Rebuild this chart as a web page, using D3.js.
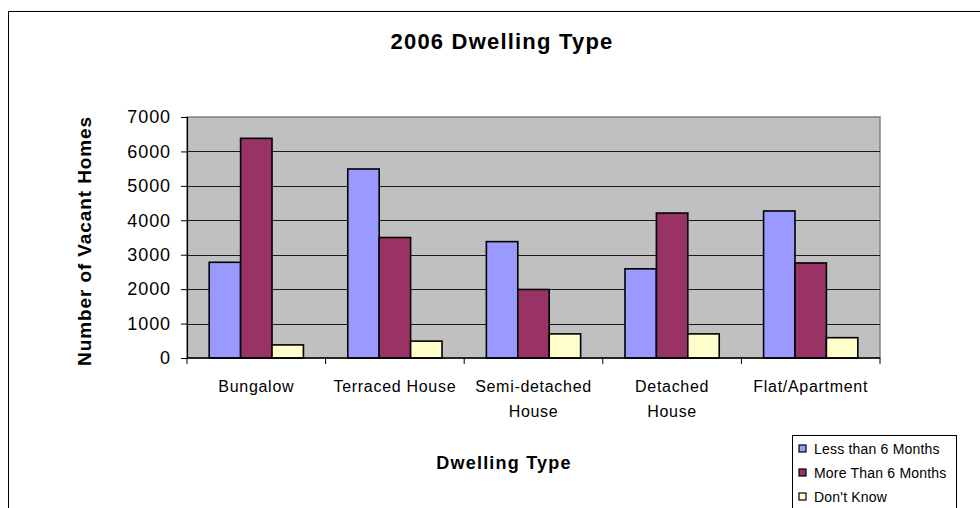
<!DOCTYPE html>
<html>
<head>
<meta charset="utf-8">
<script src="https://cdn.jsdelivr.net/npm/d3@7"></script>
<style>
  html, body { margin: 0; padding: 0; background: #fff; }
  svg { display: block; font-family: Arial, "Liberation Sans", sans-serif; }
</style>
</head>
<body>
<svg id="chart" width="980" height="508"></svg>
<script>
// Vacant homes by dwelling type, 2006
const categories = ["Bungalow", "Terraced House", "Semi-detached House", "Detached House", "Flat/Apartment"];
const categoryLines = [["Bungalow"], ["Terraced House"], ["Semi-detached", "House"], ["Detached", "House"], ["Flat/Apartment"]];
const seriesNames = ["Less than 6 Months", "More Than 6 Months", "Don't Know"];
const lessThan6 = [2780, 5490, 3380, 2590, 4270];
const moreThan6 = [6380, 3500, 1990, 4210, 2760];
const dontKnow = [380, 490, 700, 700, 590];
const yTicks = [0, 1000, 2000, 3000, 4000, 5000, 6000, 7000];
const colors = ["#9999FF", "#993366", "#FFFFCC"];

const seriesValues = [lessThan6, moreThan6, dontKnow];
const svg = d3.select("#chart");

const plot = { left: 187, right: 880, top: 117, bottom: 358 };

// Outer chart frame
svg.append("path")
  .attr("d", "M8.5,520 V11.5 H990")
  .attr("fill", "none").attr("stroke", "#000").attr("stroke-width", 1);

const x0 = d3.scaleBand().domain(categories).range([plot.left, plot.right]).padding(0);
const x1 = d3.scaleBand().domain(seriesNames)
  .range([x0.bandwidth() * 0.16, x0.bandwidth() * 0.84]).padding(0);
const y = d3.scaleLinear().domain([0, 7000]).range([plot.bottom, plot.top]);

// Plot background
svg.append("rect")
  .attr("x", plot.left).attr("y", plot.top)
  .attr("width", plot.right - plot.left).attr("height", plot.bottom - plot.top)
  .attr("fill", "#C0C0C0").attr("stroke", "#808080").attr("stroke-width", 1.5);

// Gridlines
svg.append("g").selectAll("line")
  .data(yTicks.filter(t => t > 0 && t < 7000))
  .join("line")
  .attr("x1", plot.left).attr("x2", plot.right)
  .attr("y1", d => Math.round(y(d)) + 0.5).attr("y2", d => Math.round(y(d)) + 0.5)
  .attr("stroke", "#1a1a1a").attr("stroke-width", 1.2);

// Bars
const groups = svg.append("g").selectAll("g")
  .data(categories)
  .join("g")
  .attr("transform", d => `translate(${x0(d)},0)`);

groups.selectAll("rect")
  .data((d, i) => seriesNames.map((s, j) => ({ s, j, v: seriesValues[j][i] })))
  .join("rect")
  .attr("x", d => x1(d.s))
  .attr("y", d => y(d.v))
  .attr("width", x1.bandwidth())
  .attr("height", d => y(0) - y(d.v))
  .attr("fill", d => colors[d.j])
  .attr("stroke", "#000").attr("stroke-width", 1.6);

// Y axis
const yAxis = d3.axisLeft(y).tickValues(yTicks).tickSize(6).tickPadding(10).tickFormat(d3.format("d"));
const yg = svg.append("g").attr("transform", `translate(${plot.left},0)`).call(yAxis);
yg.select(".domain").attr("stroke", "#000").attr("stroke-width", 1.2);
yg.selectAll(".tick line").attr("stroke", "#000");
yg.selectAll("text")
  .attr("font-family", "Arial, 'Liberation Sans', sans-serif")
  .attr("font-size", 18).attr("letter-spacing", 0.9).attr("fill", "#000");

// X axis line and category separators
svg.append("line")
  .attr("x1", plot.left).attr("x2", plot.right)
  .attr("y1", plot.bottom).attr("y2", plot.bottom)
  .attr("stroke", "#000").attr("stroke-width", 1.5);
const boundaries = categories.map(c => x0(c)).concat([x0.range()[1]]);
svg.append("g").selectAll("line")
  .data(boundaries)
  .join("line")
  .attr("x1", d => d).attr("x2", d => d)
  .attr("y1", plot.bottom).attr("y2", plot.bottom + 6)
  .attr("stroke", "#000").attr("stroke-width", 1);

// Category labels
const catLabels = svg.append("g").selectAll("text")
  .data(categories)
  .join("text")
  .attr("x", d => x0(d) + x0.bandwidth() / 2)
  .attr("y", 392)
  .attr("text-anchor", "middle")
  .attr("font-size", 16).attr("letter-spacing", 0.7).attr("fill", "#000");
catLabels.each(function(d, i) {
  d3.select(this).selectAll("tspan")
    .data(categoryLines[i])
    .join("tspan")
    .attr("x", x0(d) + x0.bandwidth() / 2)
    .attr("dy", (t, k) => k === 0 ? 0 : 25)
    .text(t => t);
});

// Title
svg.append("text")
  .attr("x", 502).attr("y", 49)
  .attr("text-anchor", "middle")
  .attr("font-size", 22).attr("font-weight", "bold").attr("letter-spacing", 1.2)
  .text("2006 Dwelling Type");

// Axis titles
svg.append("text")
  .attr("x", 504).attr("y", 469)
  .attr("text-anchor", "middle")
  .attr("font-size", 18).attr("font-weight", "bold").attr("letter-spacing", 1.2)
  .text("Dwelling Type");

svg.append("text")
  .attr("transform", "translate(91,241) rotate(-90)")
  .attr("text-anchor", "middle")
  .attr("font-size", 19).attr("font-weight", "bold").attr("letter-spacing", 0.9)
  .text("Number of Vacant Homes");

// Legend
const legend = svg.append("g");
legend.append("rect")
  .attr("x", 792.5).attr("y", 435.5).attr("width", 164).attr("height", 90)
  .attr("fill", "#fff").attr("stroke", "#000").attr("stroke-width", 1);
const items = legend.selectAll("g.item")
  .data(seriesNames)
  .join("g").attr("class", "item")
  .attr("transform", (d, i) => `translate(0,${449 + i * 24})`);
items.append("rect")
  .attr("x", 799).attr("y", -4).attr("width", 7).attr("height", 7)
  .attr("fill", (d, i) => colors[i]).attr("stroke", "#000").attr("stroke-width", 1.2);
items.append("text")
  .attr("x", 814).attr("y", 5)
  .attr("font-size", 14).attr("letter-spacing", 0.2)
  .text(d => d);
</script>
</body>
</html>
